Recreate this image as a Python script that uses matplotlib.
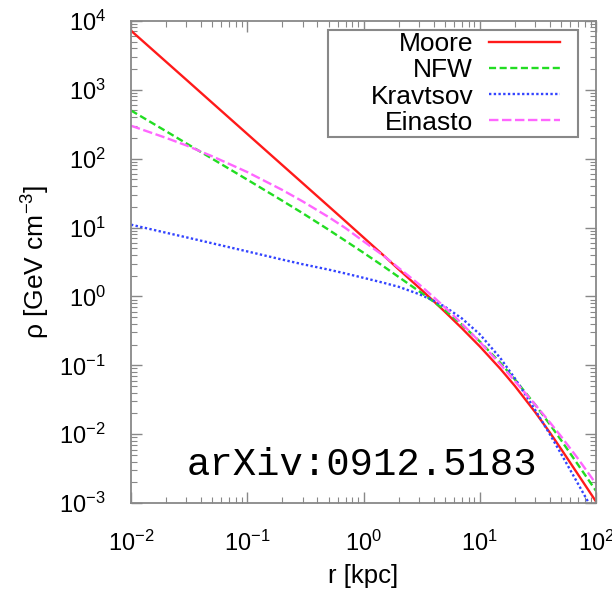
import matplotlib
matplotlib.use('Agg')
import matplotlib.pyplot as plt
from matplotlib.patches import Rectangle
from matplotlib.ticker import LogLocator, NullFormatter

plt.rcParams['font.family'] = ['Liberation Sans', 'DejaVu Sans']
plt.rcParams['mathtext.fontset'] = 'custom'
plt.rcParams['mathtext.rm'] = 'Liberation Sans'
plt.rcParams['mathtext.it'] = 'Liberation Sans:italic'
plt.rcParams['mathtext.default'] = 'regular'

# radius grid (kpc) and density values (GeV cm^-3)
r = [0.01, 0.02, 0.03, 0.05, 0.1, 0.2, 0.3, 0.5, 0.7, 1, 1.5, 2, 3, 4, 5,
     7, 10, 15, 20, 30, 40, 50, 70, 100]
moore = [7200, 2550, 1390, 645, 228, 80.6, 43.9, 20.4, 12.3, 7.17, 3.88,
         2.48, 1.34, 0.856, 0.60, 0.346, 0.188, 0.0892, 0.0503, 0.0208,
         0.0106, 6.1e-3, 2.6e-3, 1.05e-3]
nfw = [500, 250, 166, 99.5, 49.5, 24.5, 16.1, 9.3, 6.4, 4.3, 2.7, 1.92,
       1.19, 0.84, 0.635, 0.39, 0.222, 0.109, 0.0625, 0.0267, 0.0139,
       8.2e-3, 3.6e-3, 1.5e-3]
kravtsov = [11.0, 8.4, 7.2, 5.9, 4.5, 3.42, 2.93, 2.45, 2.15, 1.86, 1.57,
            1.38, 1.08, 0.87, 0.71, 0.48, 0.282, 0.1275, 0.0649, 0.0224,
            0.0100, 5.2e-3, 1.9e-3, 6.5e-4]
einasto = [300, 200, 155, 108, 63.8, 35.1, 23.9, 14.2, 9.8, 6.3, 3.85,
           2.6, 1.5, 0.98, 0.695, 0.404, 0.2185, 0.1036, 0.0591, 0.0268,
           0.0149, 9.3e-3, 4.4e-3, 1.9e-3]

fig = plt.figure(figsize=(6.12, 5.94), dpi=100)
ax = fig.add_axes([0.214, 0.153, 0.760, 0.812])

ax.plot(r, moore, color='#ff1a1a', lw=1.7, ls='-', label='Moore')
ax.plot(r, nfw, color='#22dd22', lw=1.7, ls=(0, (3, 1.5)), label='NFW')
ax.plot(r, kravtsov, color='#3344ff', lw=1.7, ls=(0, (1, 1)), label='Kravtsov')
ax.plot(r, einasto, color='#ff66ff', lw=1.7, ls=(0, (4, 1.5)), label='Einasto')

ax.set_xscale('log')
ax.set_yscale('log')
ax.set_xlim(1e-2, 1e2)
ax.set_ylim(1e-3, 1e4)

ax.xaxis.set_major_locator(LogLocator(base=10, numticks=10))
ax.yaxis.set_major_locator(LogLocator(base=10, numticks=10))
ax.xaxis.set_minor_locator(LogLocator(base=10, subs=range(2, 10), numticks=20))
ax.yaxis.set_minor_locator(LogLocator(base=10, subs=range(2, 10), numticks=20))
ax.xaxis.set_minor_formatter(NullFormatter())
ax.yaxis.set_minor_formatter(NullFormatter())

for s in ax.spines.values():
    s.set_color('#888888')
    s.set_linewidth(1.3)
ax.tick_params(which='both', direction='in', top=True, right=True,
               color='#888888', labelsize=17)
ax.tick_params(which='major', length=8, width=1.0)
ax.tick_params(which='minor', length=4, width=0.8)
ax.tick_params(axis='x', which='major', pad=20)
ax.tick_params(axis='y', which='major', pad=18)

ax.set_xlabel('r [kpc]', fontsize=18.5, labelpad=6)
ax.set_ylabel('ρ [GeV cm$^{-3}$]', fontsize=19, labelpad=5)

# gnuplot-style key: box drawn separately, entries right-aligned
box = Rectangle((0.424, 0.759), 0.537, 0.222, transform=ax.transAxes,
                facecolor='white', edgecolor='#888888', lw=1.5, zorder=4)
ax.add_patch(box)
leg = ax.legend(loc='upper right', markerfirst=False, fontsize=19,
                handlelength=2.7, frameon=False,
                borderpad=0, labelspacing=0.08, handletextpad=0.6,
                borderaxespad=0, bbox_to_anchor=(0.923, 0.976))
leg.set_zorder(5)

ax.text(0.497, 0.079, 'arXiv:0912.5183', transform=ax.transAxes,
        ha='center', va='center', fontsize=28, family='Liberation Mono')

fig.savefig('out.png', dpi=100)
